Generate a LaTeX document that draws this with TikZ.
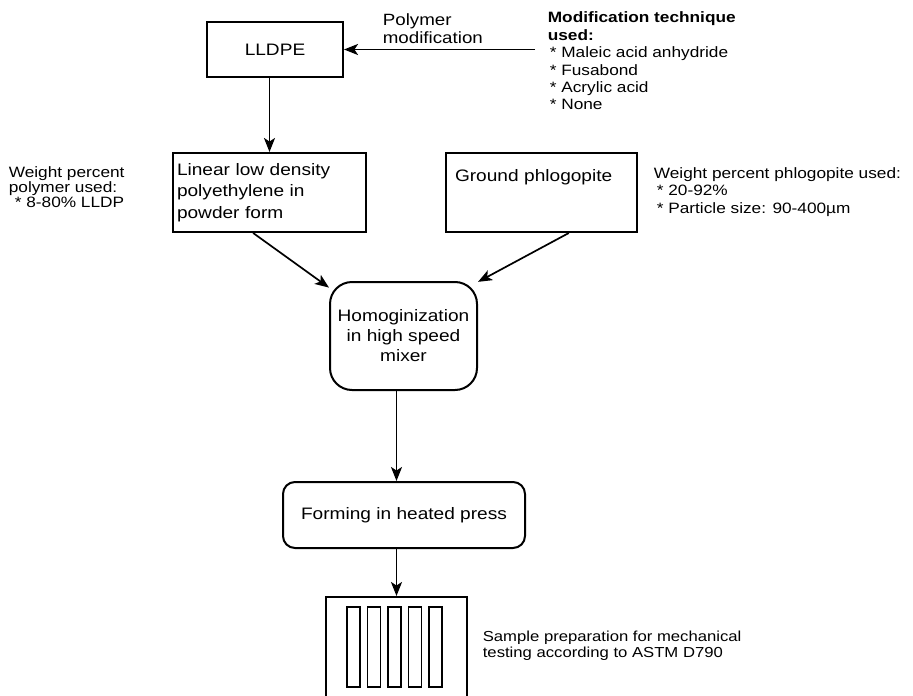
\documentclass[tikz,border=0pt]{standalone}
\usepackage{fontspec}
\setmainfont[FakeStretch=1.15]{Liberation Sans}
\usetikzlibrary{arrows.meta,positioning}

\begin{document}
\begin{tikzpicture}[x=1pt, y=-1pt, line width=1.7pt, >={Stealth[length=14pt,width=11pt,inset=3.5pt]},
  flowbox/.style={draw, rectangle, line width=2pt, inner sep=0pt, align=left, font=\fontsize{16.6}{21.5}\selectfont},
  roundbox/.style={flowbox, rounded corners=#1, align=center},
  sidetext/.style={inner sep=0pt, anchor=west, align=left, font=\fontsize{15}{17.4}\selectfont}]
\useasboundingbox (0,0) rectangle (913,696);
\draw
  node at (275,49.5)[flowbox, minimum width=136pt, minimum height=55pt](lldpe){LLDPE}
  node at (382,29)[sidetext, font=\fontsize{16.3}{18}\selectfont](polymod){Polymer\\modification}
  node at (547,61)[sidetext](modtext){\textbf{Modification technique}\\\textbf{used:}\\
    \hspace{2pt}* Maleic acid anhydride\\\hspace{2pt}* Fusabond\\\hspace{2pt}* Acrylic acid\\\hspace{2pt}* None}
  node at (269.5,192.5)[flowbox, text width=185pt, inner xsep=4pt, minimum height=79pt](linear){Linear low density\\polyethylene in\\powder form}
  node at (8,187)[sidetext, font=\fontsize{15}{15}\selectfont](polwt){Weight percent\\polymer used:\\\hspace{6pt}* 8-80\% LLDP}
  node at (541.5,192.5)[flowbox, text width=173pt, inner xsep=9pt, text height=28pt, text depth=51pt](ground){Ground phlogopite}
  node at (653,192)[sidetext](phlwt){Weight percent phlogopite used:\\\hspace{3pt}* 20-92\%\\\hspace{3pt}* Particle size: 90-400µm}
  node at (403.5,336)[roundbox=22pt, minimum width=147pt, minimum height=108pt, font=\fontsize{16.6}{20}\selectfont](homog){Homoginization\\in high speed\\mixer}
  node at (404,515)[roundbox=12pt, minimum width=242pt, minimum height=66pt](forming){Forming in heated press}
  node at (396.5,658.5)[flowbox, minimum width=141pt, minimum height=123pt](sample){}
  node at (482,646)[sidetext, font=\fontsize{14.5}{16}\selectfont](samptext){Sample preparation for mechanical\\testing according to ASTM D790};
% test strips
\foreach \k in {0,...,4}
  \draw[line width=1.2pt] (347+20.5*\k,607) rectangle ++(13,80);
\draw[->, shorten <=12pt] (modtext.west |- lldpe.east) -- (lldpe.east);
\draw[->] (lldpe.south -| linear.north) -- (linear.north);
\draw[->] (linear.-112) -- (homog.147);
\draw[->] (ground.-56) -- (homog.36);
\draw[->] (homog.south -| sample.north) -- (forming.north -| sample.north);
\draw[->] (forming.south -| sample.north) -- (sample.north);
\end{tikzpicture}
\end{document}
